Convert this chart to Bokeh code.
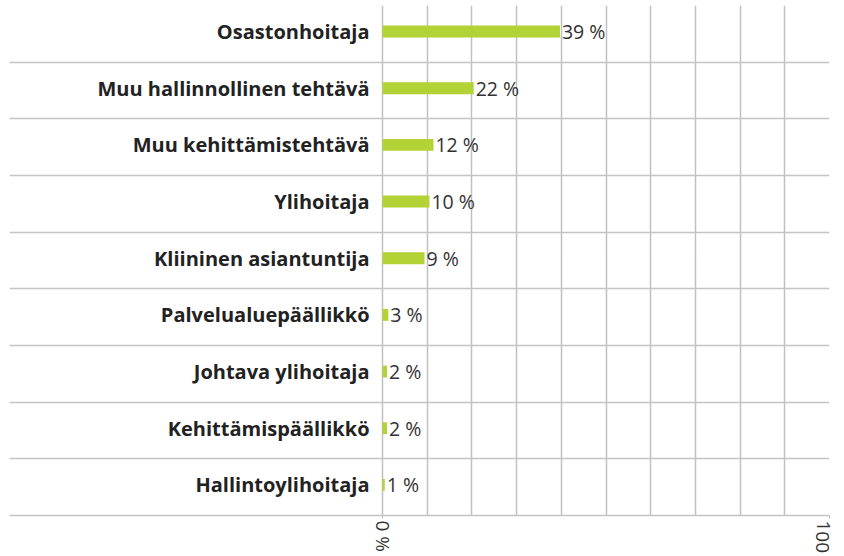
from bokeh.plotting import figure
from bokeh.models import Range1d, FixedTicker, ColumnDataSource
from bokeh.core.properties import value
from bokeh.embed import file_html
from bokeh.resources import INLINE

categories = ["Osastonhoitaja", "Muu hallinnollinen tehtävä", "Muu kehittämistehtävä",
              "Ylihoitaja", "Kliininen asiantuntija", "Palvelualuepäällikkö",
              "Johtava ylihoitaja", "Kehittämispäällikkö", "Hallintoylihoitaja"]
# bar lengths as drawn in the reference picture (percent)
bar_values = [39.7, 20.4, 11.4, 10.5, 9.4, 1.3, 1.0, 1.0, 0.5]
value_labels = ["39 %", "22 %", "12 %", "10 %", "9 %", "3 %", "2 %", "2 %", "1 %"]
axis_ticks = [0, 100]
axis_tick_labels = {0: "0 %", 100: "100"}
grid_ticks = [0, 10, 20, 30, 40, 50, 60, 70, 80, 90, 100]

n = len(categories)
ypos = [n - i - 0.46 for i in range(n)]

src = ColumnDataSource(dict(cat=categories, val=bar_values, lab=value_labels, y=ypos))

p = figure(width=836, height=556, output_backend="svg", toolbar_location=None,
           x_range=Range1d(-83.45, 100), y_range=Range1d(0, n),
           min_border_left=9, min_border_right=7, min_border_top=5, min_border_bottom=0)
p.outline_line_color = None
p.background_fill_color = "white"
p.border_fill_color = "white"

p.hbar(y="y", left=0, right="val", height=0.21, source=src,
       fill_color="#b2d235", line_color=None)

p.text(x=0, y="y", text="cat", source=src, x_offset=-13, text_align="right",
       text_baseline="middle", text_font=value("Open Sans"), text_font_style="bold",
       text_font_size="20px", text_color="#222222")
p.text(x="val", y="y", text="lab", source=src, x_offset=2, text_align="left",
       text_baseline="middle", text_font=value("Open Sans"), text_font_size="19.5px",
       text_color="#333333")

p.yaxis.visible = False
p.ygrid.ticker = FixedTicker(ticks=list(range(0, n + 1)))
p.ygrid.grid_line_color = "#c4c4c4"
p.ygrid.grid_line_width = 1.5
p.xgrid.ticker = FixedTicker(ticks=grid_ticks)
p.xgrid.grid_line_color = "#c0c0c0"
p.xgrid.grid_line_width = 1.5

ax = p.xaxis[0]
ax.ticker = FixedTicker(ticks=axis_ticks)
ax.major_label_overrides = axis_tick_labels
ax.major_label_orientation = -1.5708
ax.major_label_text_font = "Open Sans"
ax.major_label_text_font_size = "19px"
ax.major_label_text_color = "#333333"
ax.axis_line_color = "#c4c4c4"
ax.axis_line_width = 1.5
ax.major_tick_line_color = "#c0c0c0"
ax.major_tick_in = 0
ax.major_tick_out = 3
ax.minor_tick_line_color = None
ax.major_label_standoff = 2

open("out.html", "w").write(file_html(p, INLINE))
